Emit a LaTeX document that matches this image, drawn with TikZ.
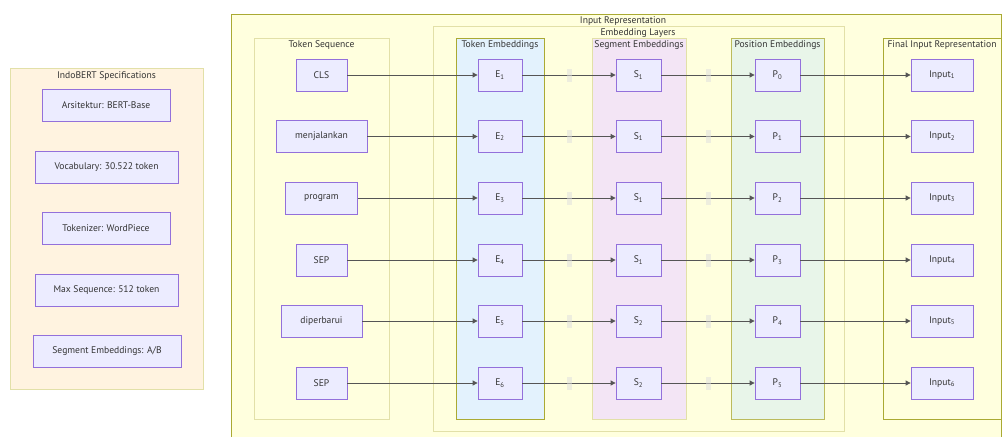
\documentclass[tikz,border=0pt]{standalone}
\usepackage{fontspec}
\setmainfont{PT Sans}
\usetikzlibrary{arrows.meta}
\definecolor{nodefill}{HTML}{ECECFF}
\definecolor{nodedraw}{HTML}{9370DB}
\definecolor{clfill}{HTML}{FFFFDE}
\definecolor{cldraw}{HTML}{AAAA33}
\definecolor{cllight}{HTML}{E2E0A8}
\definecolor{tokfill}{HTML}{E3F2FD}
\definecolor{segfill}{HTML}{F3E5F5}
\definecolor{posfill}{HTML}{E8F5E9}
\definecolor{specfill}{HTML}{FFF3E0}
\definecolor{edgecol}{HTML}{555555}
\definecolor{txt}{HTML}{333333}
\tikzset{
  box/.style={draw=nodedraw, fill=nodefill, line width=0.8pt, inner sep=0pt, minimum height=32pt, text=txt},
  cluster/.style={line width=0.8pt},
  ttl/.style={text=txt, inner sep=0pt},
  arr/.style={draw=edgecol, line width=0.8pt, -{Triangle[length=5pt,width=5pt]}},
  lbl/.style={fill=gray!25, fill opacity=0.5, minimum width=5pt, minimum height=13pt, inner sep=0pt, draw=none}
}
\begin{document}
\begin{tikzpicture}[x=1pt,y=-1pt,font=\fontsize{9.6}{11}\selectfont]
\useasboundingbox (0,0) rectangle (1003,436);
% clusters
\draw[cluster, draw=cllight, fill=specfill] (10,68) rectangle (203,389);
\node[ttl] (tspec) at (106.5,76) {IndoBERT Specifications};
\draw[cluster, draw=cldraw, fill=clfill] (231,14) rectangle (1001,440);
\node[ttl] (tinrep) at (623,21) {Input Representation};
\draw[cluster, draw=cllight, fill=clfill] (433,26) rectangle (844,431);
\node[ttl] (temb) at (638,33) {Embedding Layers};
\draw[cluster, draw=cllight, fill=clfill] (254,38) rectangle (389,419);
\node[ttl] (ttok) at (321.5,45) {Token Sequence};
\draw[cluster, draw=cldraw, fill=tokfill] (456,38) rectangle (544,419);
\node[ttl] (tte) at (500,45) {Token Embeddings};
\draw[cluster, draw=cllight, fill=segfill] (592,38) rectangle (686,419);
\node[ttl] (tse) at (639,45) {Segment Embeddings};
\draw[cluster, draw=cldraw!80, fill=posfill] (731,38) rectangle (824,419);
\node[ttl] (tpe) at (777.5,45) {Position Embeddings};
\draw[cluster, draw=cldraw, fill=clfill] (883,38) rectangle (1001,419);
\node[ttl] (tfin) at (942,45) {Final Input Representation};
% spec nodes
\node[box, minimum width=128pt] (sp1) at (106,105.5) {Arsitektur: BERT-Base};
\node[box, minimum width=143pt] (sp2) at (106.5,167) {Vocabulary: 30.522 token};
\node[box, minimum width=128pt] (sp3) at (106,228.5) {Tokenizer: WordPiece};
\node[box, minimum width=143pt] (sp4) at (106.5,290) {Max Sequence: 512 token};
\node[box, minimum width=148pt] (sp5) at (107,351.5) {Segment Embeddings: A/B};
% token nodes
\node[box, minimum width=51pt] (t1) at (321.5,75) {CLS};
\node[box, minimum width=91pt] (t2) at (321.5,136.5) {menjalankan};
\node[box, minimum width=72pt] (t3) at (321.5,198) {program};
\node[box, minimum width=51pt] (t4) at (321.5,260) {SEP};
\node[box, minimum width=81pt] (t5) at (321.5,321) {diperbarui};
\node[box, minimum width=51pt] (t6) at (321.5,383) {SEP};
% E nodes
\foreach \i/\y in {1/75,2/136.5,3/198,4/260,5/321,6/383}{
  \node[box, minimum width=44pt] (e\i) at (500,\y) {E\textsubscript{\i}};
}
% S nodes
\foreach \i/\s/\y in {1/1/75,2/1/136.5,3/1/198,4/1/260,5/2/321,6/2/383}{
  \node[box, minimum width=45pt] (s\i) at (638.5,\y) {S\textsubscript{\s}};
}
% P nodes
\foreach \i/\p/\y in {1/0/75,2/1/136.5,3/2/198,4/3/260,5/4/321,6/5/383}{
  \node[box, minimum width=45pt] (p\i) at (777.5,\y) {P\textsubscript{\p}};
}
% Input nodes
\foreach \i/\y in {1/75,2/136.5,3/198,4/260,5/321,6/383}{
  \node[box, minimum width=62pt] (in\i) at (942,\y) {Input\textsubscript{\i}};
}
% edges
\foreach \i in {1,...,6}{
  \draw[arr] (t\i) -- (e\i);
  \draw[arr] (e\i) -- node[lbl] (la\i) {} (s\i);
  \draw[arr] (s\i) -- node[lbl] (lb\i) {} (p\i);
  \draw[arr] (p\i) -- (in\i);
}
\end{tikzpicture}
\end{document}
